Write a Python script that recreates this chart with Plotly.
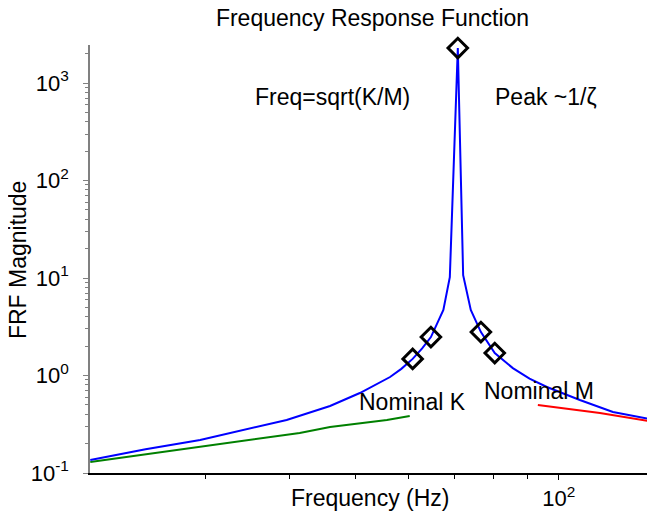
import plotly.graph_objects as go
import math

# Data
freq_blue = [20.3, 24.5, 29.5, 34.5, 39.6, 45.9, 50.8, 56.3, 58.5, 60.8, 62.8, 64.7, 67.5,
             69.0, 70.9, 72.2, 74.1, 76.7, 80.4, 85.5, 90.5, 96.0, 101.5, 107.4, 120.2, 138.7]
mag_blue = [0.136, 0.175, 0.218, 0.283, 0.350, 0.487, 0.661, 0.965, 1.17, 1.48, 1.90, 2.48, 4.70,
            10.2, 2286, 10.7, 4.70, 2.79, 1.70, 1.19, 0.93, 0.762, 0.65, 0.561, 0.422, 0.350]

freq_pts = [60.8, 64.7, 70.9, 76.7, 80.4]
mag_pts = [1.48, 2.48, 2286, 2.79, 1.70]

freq_k = [20.3, 29.5, 41.4, 45.9, 55.7, 60.2]
mag_k = [0.130, 0.185, 0.257, 0.296, 0.350, 0.384]

freq_m = [93.1, 115.0, 138.7]
mag_m = [0.498, 0.412, 0.333]

y_major = [0.1, 1, 10, 100, 1000]
y_major_text = ["10<sup>-1</sup>", "10<sup>0</sup>", "10<sup>1</sup>", "10<sup>2</sup>", "10<sup>3</sup>"]
x_major = [100]
x_major_text = ["10<sup>2</sup>"]
x_minor = [20, 30, 40, 50, 60, 70, 80, 90]
y_minor = [d * k for d in [0.1, 1, 10, 100, 1000] for k in range(2, 10)]

FONT = "Liberation Sans, Arial, sans-serif"

fig = go.Figure()
fig.add_trace(go.Scatter(x=freq_k, y=mag_k, mode="lines",
                         line=dict(color="#008000", width=2), showlegend=False))
fig.add_trace(go.Scatter(x=freq_m, y=mag_m, mode="lines",
                         line=dict(color="#ff0000", width=2), showlegend=False))
fig.add_trace(go.Scatter(x=freq_blue, y=mag_blue, mode="lines",
                         line=dict(color="#0000ff", width=2), showlegend=False))
fig.add_trace(go.Scatter(x=freq_pts, y=mag_pts, mode="markers", cliponaxis=False,
                         marker=dict(symbol="diamond-open", size=15, color="black",
                                     line=dict(width=3, color="black")),
                         showlegend=False))

fig.update_xaxes(type="log", range=[math.log10(20.28), math.log10(138.7)],
                 showline=True, linecolor="black", linewidth=1.5, mirror=False,
                 showgrid=False, zeroline=False,
                 tickmode="array", tickvals=x_major, ticktext=x_major_text,
                 ticks="outside", ticklen=5, tickcolor="black",
                 tickfont=dict(family=FONT, size=22, color="black"),
                 minor=dict(tickmode="array", tickvals=x_minor, ticks="outside",
                            ticklen=4, tickcolor="black", showgrid=False))
fig.update_yaxes(type="log", range=[-1, 3.39],
                 showline=True, linecolor="#808080", linewidth=1.5, mirror=False,
                 showgrid=False, zeroline=False,
                 tickmode="array", tickvals=y_major, ticktext=y_major_text,
                 ticks="outside", ticklen=5, tickcolor="#808080",
                 ticklabelstandoff=10,
                 tickfont=dict(family=FONT, size=22, color="black"),
                 minor=dict(tickmode="array", tickvals=y_minor, ticks="outside",
                            ticklen=3, tickcolor="#808080", showgrid=False))

ann_font = dict(family=FONT, size=23, color="black")
annotations = [
    dict(text="Freq=sqrt(K/M)", x=0.430, y=0.879),
    dict(text="Peak ~1/ζ", x=0.807, y=0.879),
    dict(text="Nominal K", x=0.570, y=0.166),
    dict(text="Nominal M", x=0.795, y=0.192),
    dict(text="Frequency (Hz)", x=0.496, y=-0.058),
]
for a in annotations:
    fig.add_annotation(text=a["text"], x=a["x"], y=a["y"], xref="paper", yref="paper",
                       xanchor="center", yanchor="middle", showarrow=False, font=ann_font)
fig.add_annotation(text="FRF Magnitude", x=-0.127, y=0.498, xref="paper", yref="paper",
                   xanchor="center", yanchor="middle", showarrow=False, textangle=-90,
                   font=ann_font)

# The page body has an 8px margin, so the figure is made 8px smaller each way
fig.update_layout(
    width=647, height=507,
    margin=dict(l=82, r=0, t=37, b=42),
    paper_bgcolor="white", plot_bgcolor="white",
    title=dict(text="Frequency Response Function", x=0.5, xref="paper",
               y=1 - 10 / 507, yref="container", xanchor="center", yanchor="middle",
               font=dict(family=FONT, size=23, color="black")),
)

fig.write_html("out.html")
